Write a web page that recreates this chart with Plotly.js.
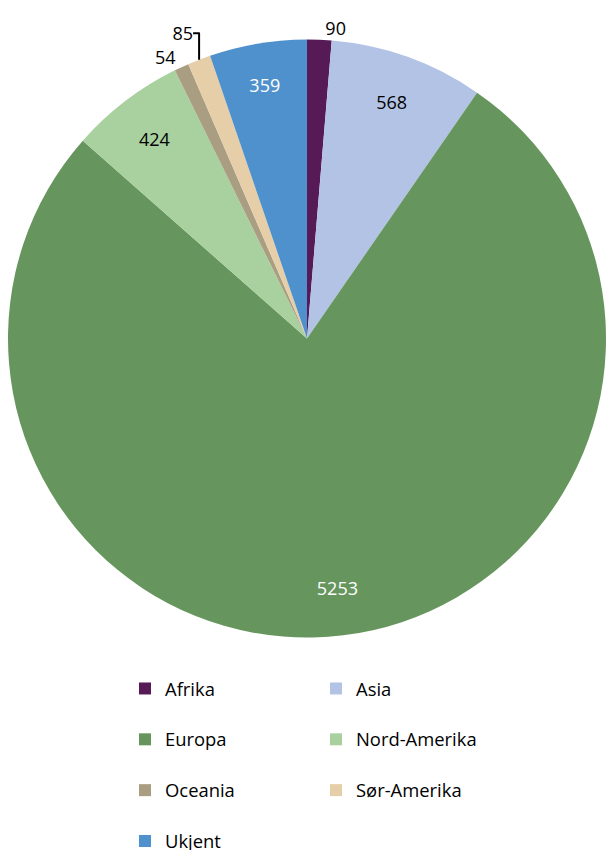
<!DOCTYPE html>
<html>
<head>
<meta charset="utf-8">
<script src="https://cdn.plot.ly/plotly-3.0.1.min.js"></script>
<style>html,body{margin:0;padding:0;background:#fff;}#chart{width:606px;height:850px;}</style>
</head>
<body>
<div id="chart"></div>
<script>
const categories = ["Afrika", "Asia", "Europa", "Nord-Amerika", "Oceania", "Sør-Amerika", "Ukjent"];
const values = [90, 568, 5253, 424, 54, 85, 359];
const colors = ["#561a56", "#b3c3e5", "#66965e", "#a9d09f", "#aa9e82", "#e6cfa8", "#4f91cc"];
const textColors = ["#000", "#000", "#fff", "#000", "#000", "#000", "#fff"];
const labelOutside = [true, false, false, false, true, true, false];

const FONT = "Open Sans, sans-serif";
const domain = {x: [0.0132, 1], y: [0.2494, 0.954]};

// main pie: coloured slices, legend, and outside labels for the small slices
const mainPie = {
  type: "pie",
  labels: categories.map(c => c + "<br> "),
  values: values,
  sort: false,
  direction: "clockwise",
  rotation: 0,
  marker: {colors: colors, line: {width: 0}},
  texttemplate: labelOutside.map(o => o ? "%{value}" : ""),
  textposition: labelOutside.map(o => o ? "outside" : "none"),
  outsidetextfont: {color: "#000", size: 18, family: FONT},
  hoverinfo: "none",
  domain: domain
};

// transparent ring on top, used only to place the inside labels near the rim
const labelRing = {
  type: "pie",
  labels: categories,
  values: values,
  sort: false,
  direction: "clockwise",
  rotation: 0,
  hole: 0.68,
  marker: {colors: categories.map(() => "rgba(0,0,0,0)"), line: {width: 0}},
  texttemplate: labelOutside.map(o => o ? "" : "%{value}"),
  textposition: labelOutside.map(o => o ? "none" : "inside"),
  insidetextorientation: "horizontal",
  insidetextfont: {color: textColors, size: 18, family: FONT},
  hoverinfo: "none",
  showlegend: false,
  domain: domain
};

const layout = {
  width: 606,
  height: 850,
  margin: {l: 0, r: 0, t: 0, b: 0, autoexpand: false},
  paper_bgcolor: "#fff",
  font: {family: FONT, size: 18, color: "#000"},
  showlegend: true,
  legend: {
    orientation: "h",
    x: 0.1403, xanchor: "left",
    y: 0.2588, yanchor: "top",
    entrywidth: 146,
    entrywidthmode: "pixels",
    valign: "top",
    traceorder: "normal",
    bgcolor: "rgba(0,0,0,0)",
    bordercolor: "rgba(0,0,0,0)",
    borderwidth: 40,
    font: {size: 18.4, family: FONT, color: "#000"}
  }
};

Plotly.newPlot("chart", [mainPie, labelRing], layout, {displayModeBar: false, staticPlot: true});
</script>
</body>
</html>
